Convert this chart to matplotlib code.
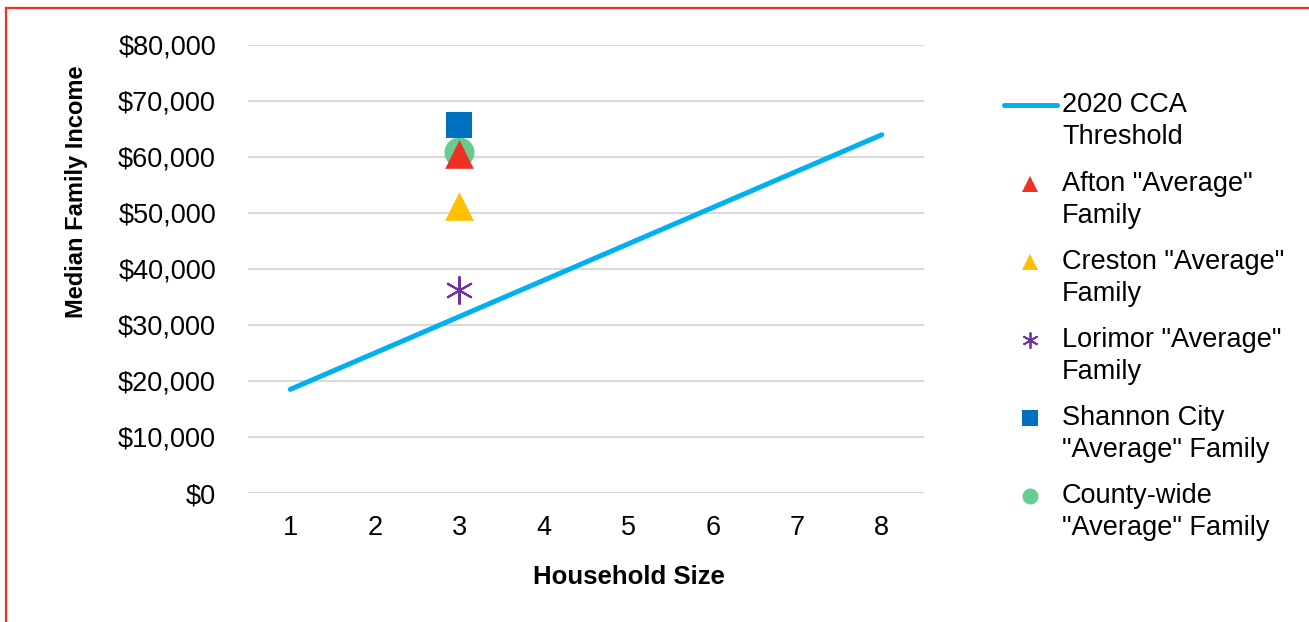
import matplotlib
matplotlib.use("Agg")
import matplotlib.pyplot as plt
from matplotlib.lines import Line2D
from matplotlib.ticker import FuncFormatter

plt.rcParams['font.family'] = ['Liberation Sans', 'DejaVu Sans']

# Household sizes and the 2020 CCA income threshold
household_sizes = [1, 2, 3, 4, 5, 6, 7, 8]
cca_threshold = [18502, 24998, 31494, 37990, 44486, 50982, 57478, 63974]

# "Average" family points (household size 3)
family_size = 3
afton_income = 60500
creston_income = 51200
lorimor_income = 36200
shannon_income = 65800
county_income = 60900

W, H = 1309, 622
fig = plt.figure(figsize=(W / 100, H / 100), dpi=100)

def px(x0, y0, x1, y1):
    return [x0 / W, 1 - y1 / H, (x1 - x0) / W, (y1 - y0) / H]

def fx(x):
    return x / W

def fy(y):
    return 1 - y / H

LINE_C = '#00B0F0'
AFTON_C = '#EE3124'
CRESTON_C = '#FFC000'
LORIMOR_C = '#7030A0'
SHANNON_C = '#0070C0'
COUNTY_C = '#66CC8F'

ax = fig.add_axes(px(248, 45, 924, 493))

ax.plot(household_sizes, cca_threshold, color=LINE_C, lw=3.6,
        solid_capstyle='round', zorder=3)
ax.scatter([family_size], [county_income], s=466, marker='o',
           color=COUNTY_C, zorder=4, linewidths=0)
ax.scatter([family_size], [afton_income], s=426, marker='^',
           color=AFTON_C, zorder=5, linewidths=0)
ax.scatter([family_size], [creston_income], s=426, marker='^',
           color=CRESTON_C, zorder=5, linewidths=0)
ax.scatter([family_size], [lorimor_income], s=377, marker=(6, 2, 0),
           color=LORIMOR_C, zorder=5, linewidths=1.5)
ax.scatter([family_size], [shannon_income], s=377, marker='s',
           color=SHANNON_C, zorder=6, linewidths=0)

ax.set_xlim(0.5, 8.5)
ax.set_ylim(0, 80000)
ax.set_xticks(household_sizes)
ax.set_yticks(range(0, 80001, 10000))
ax.yaxis.set_major_formatter(FuncFormatter(lambda v, p: f"${v:,.0f}"))
ax.grid(axis='y', color='#D9D9D9', lw=1.5, zorder=0)
ax.set_axisbelow(True)
for s in ax.spines.values():
    s.set_visible(False)
ax.tick_params(axis='both', length=0, labelsize=19.5, colors='black')
ax.tick_params(axis='y', pad=23)
ax.tick_params(axis='x', pad=16)

fig.text(fx(76), fy(192), 'Median Family Income', rotation=90,
         ha='center', va='center', fontsize=17, fontweight='bold')
fig.text(fx(629), fy(577), 'Household Size',
         ha='center', va='center', fontsize=18.5, fontweight='bold')

# legend, drawn entry by entry
legend_entries = [
    ('line', None, LINE_C, '2020 CCA\nThreshold', 105),
    ('^', 0, AFTON_C, 'Afton "Average"\nFamily', 184),
    ('^', 0, CRESTON_C, 'Creston "Average"\nFamily', 262),
    ((6, 2, 0), 1.3, LORIMOR_C, 'Lorimor "Average"\nFamily', 340),
    ('s', 0, SHANNON_C, 'Shannon City\n"Average" Family', 418),
    ('o', 0, COUNTY_C, 'County-wide\n"Average" Family', 496),
]
line_gap = 31.5
for marker, mew, color, label, y in legend_entries:
    if marker == 'line':
        fig.add_artist(Line2D([fx(1004), fx(1057)], [fy(y), fy(y)],
                              color=color, lw=3.6, solid_capstyle='round',
                              transform=fig.transFigure))
    else:
        fig.add_artist(Line2D([fx(1030)], [fy(y)], ls='none', marker=marker,
                              ms=11.5, mew=mew, color=color,
                              transform=fig.transFigure))
    fig.text(fx(1062), fy(y + line_gap / 2), label, ha='left', va='center',
             fontsize=19.5, linespacing=1.3)

# red frame
fig.add_artist(Line2D([fx(5.5), 1], [fy(7.5), fy(7.5)],
                      color=AFTON_C, lw=1.6, transform=fig.transFigure))
fig.add_artist(Line2D([fx(5.5), fx(5.5)], [0, fy(7.5)],
                      color=AFTON_C, lw=1.6, transform=fig.transFigure))

fig.savefig('out.png', dpi=100)
